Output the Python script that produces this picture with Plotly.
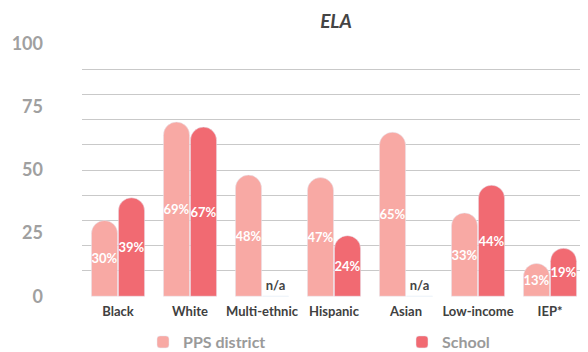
import plotly.graph_objects as go

categories = ["Black", "White", "Multi-ethnic", "Hispanic", "Asian", "Low-income", "IEP*"]
pps_district = [30, 69, 48, 47, 65, 33, 13]
school = [39, 67, None, 24, None, 44, 19]
y_tick_vals = [0, 25, 50, 75, 100]

PPS_COLOR = "#F8A9A4"
SCHOOL_COLOR = "#F16A72"
FONT = "Lato"

# The page body has an 8px default margin, so the figure is laid out 8px smaller.
W, H = 580, 344

school_plot = [v if v is not None else 0 for v in school]
school_text = [f"{v}%" if v is not None else "n/a" for v in school]
school_pos = ["inside" if v is not None else "outside" for v in school]
school_textcolor = ["white" if v is not None else "#444444" for v in school]
school_textsize = [13 if v is not None else 12 for v in school]

fig = go.Figure()
fig.add_trace(go.Bar(
    name="PPS district", x=categories, y=pps_district,
    marker=dict(color=PPS_COLOR, cornerradius="50%"),
    text=[f"{v}%" for v in pps_district], textposition="inside",
    insidetextanchor="middle", textangle=0,
    textfont=dict(family=FONT, size=13, color="white", weight="bold"),
    hoverinfo="skip", legend="legend",
))
fig.add_trace(go.Bar(
    name="School", x=categories, y=school_plot,
    marker=dict(color=SCHOOL_COLOR, cornerradius="50%"),
    text=school_text, textposition=school_pos,
    insidetextanchor="middle", textangle=0,
    textfont=dict(family=FONT, size=school_textsize, color=school_textcolor, weight="bold"),
    cliponaxis=False,
    hoverinfo="skip", legend="legend2",
))
fig.add_trace(go.Scatter(x=[categories[0]], y=[0], yaxis="y2", mode="markers",
                         marker=dict(opacity=0), showlegend=False, hoverinfo="skip"))

legend_font = dict(family=FONT, size=16, color="#9A9A9A", weight="bold")

fig.update_layout(
    width=W, height=H,
    margin=dict(l=74, r=2, t=35, b=55, autoexpand=False),
    paper_bgcolor="white", plot_bgcolor="white",
    barmode="group", bargap=0.25, bargroupgap=0.03,
    uniformtext=dict(minsize=13, mode="show"),
    font=dict(family=FONT),
    title=dict(text="ELA", x=328 / W, xanchor="center", xref="container",
               y=1 - 13 / H, yanchor="middle", yref="container",
               font=dict(family=FONT, size=19, color="#444444", weight="bold", style="italic")),
    xaxis=dict(showgrid=False, zeroline=False, showline=False, ticks="", automargin=False,
               tickfont=dict(family=FONT, size=13, color="#404040", weight="bold"),
               ticklabelstandoff=5),
    yaxis=dict(range=[-0.3, 100.3], dtick=10, showticklabels=False, showgrid=True,
               gridcolor="#C9C9C9", gridwidth=1.3, zeroline=False, showline=False,
               automargin=False),
    yaxis2=dict(overlaying="y", side="left", anchor="x", range=[-0.3, 100.3],
                tickmode="array", tickvals=y_tick_vals, showgrid=False, zeroline=False,
                showline=False, ticks="", ticklabelstandoff=38, automargin=False,
                tickfont=dict(family=FONT, size=18, color="#A0A0A0", weight="bold")),
    legend=dict(orientation="h", xref="container", x=135 / W, xanchor="left",
                yref="container", y=1 - 334 / H, yanchor="middle",
                bgcolor="rgba(0,0,0,0)", font=legend_font,
                itemclick=False, itemdoubleclick=False),
    legend2=dict(orientation="h", xref="container", x=394 / W, xanchor="left",
                 yref="container", y=1 - 334 / H, yanchor="middle",
                 bgcolor="rgba(0,0,0,0)", font=legend_font,
                 itemclick=False, itemdoubleclick=False),
    showlegend=True,
)

fig.write_html("out.html")
